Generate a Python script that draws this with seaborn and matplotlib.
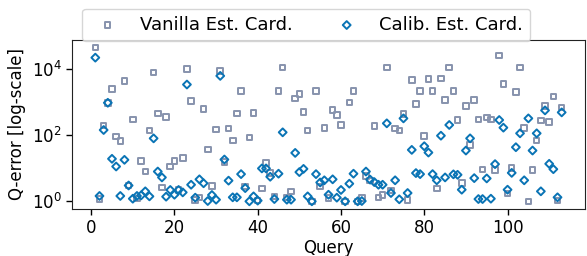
import numpy as np
import pandas as pd
import matplotlib
matplotlib.use("Agg")
import matplotlib.pyplot as plt
import matplotlib.ticker as mticker
import seaborn as sns

# Q-error per query (JOB, 113 queries)
queries = list(range(1, 114))

vanilla_qerror = [
    42700, 1.17, 195, 933, 2400, 91, 65, 4270, 3.0, 288,
    1.2, 16.6, 7.8, 138, 7590, 447, 2.6, 347, 11.2, 16.6,
    2.2, 20.4, 9770, 1050, 1.1, 1.32, 617, 36, 2.9, 145,
    8510, 15.5, 158, 68, 447, 2140, 2.8, 85, 457, 1.05,
    2.45, 14.1, 7.2, 1.41, 2140, 10700, 1.32, 2.0, 1260, 1700,
    500, 138, 1.0, 2140, 2.8, 162, 1.26, 562, 398, 200,
    1.0, 955, 2140, 1.0, 1.26, 5.9, 4.3, 186, 1.32, 1.58,
    10700, 2.1, 158, 138, 427, 1.1, 4470, 870, 2140, 93,
    4790, 2140, 2.45, 5010, 1150, 10700, 2140, 282, 3.5, 760,
    50, 1150, 288, 9.1, 339, 288, 8.9, 25100, 3470, 1.7,
    10, 1950, 10700, 162, 1.0, 8.9, 68, 270, 760, 245,
    1450, 1.07, 676,
]

calib_qerror = [
    21400, 1.45, 141, 933, 19.1, 11.2, 1.45, 17.8, 3.0, 1.2,
    1.45, 1.51, 2.0, 1.41, 79, 7.9, 5.25, 1.38, 2.2, 1.58,
    2.2, 1.86, 3310, 3.16, 1.29, 4.6, 3.5, 1.02, 1.55, 1.12,
    6030, 18.2, 4.2, 1.32, 1.32, 6.6, 2.5, 1.0, 1.41, 1.05,
    9.8, 9.8, 5.5, 1.17, 6.8, 120, 1.12, 1.12, 28.8, 7.6,
    9.5, 1.41, 1.0, 6.6, 3.7, 4.3, 1.58, 4.6, 1.29, 2.2,
    1.0, 3.4, 6.8, 1.0, 1.02, 7.9, 4.5, 3.8, 3.16, 3.16,
    224, 1.78, 4.3, 1.15, 316, 1.78, 35.5, 7.1, 6.6, 45.7,
    29.5, 6.6, 4.3, 95, 5.25, 200, 6.5, 6.3, 2.24, 33.9,
    79, 5.0, 1.17, 1.17, 4.9, 1.2, 13.2, 282, 166, 2.24,
    7.2, 42.7, 112, 4.3, 316, 33.9, 112, 2.0, 550, 13.5,
    9.3, 1.32, 479,
]

series_names = ["Vanilla Est. Card.", "Calib. Est. Card."]
colors = ["#8793ad", "#0a74b5"]
markers = ["s", "D"]
ytick_values = [1, 1e2, 1e4]

sns.set_style("ticks", {
    "text.color": "black", "axes.labelcolor": "black",
    "xtick.color": "black", "ytick.color": "black",
    "axes.edgecolor": "#222222",
})
plt.rcParams["font.family"] = ["DejaVu Sans"]

fig = plt.figure(figsize=(5.87, 2.56), dpi=100)
ax = fig.add_axes([72 / 587, 1 - 209 / 256, 513 / 587, 169 / 256])

for name, vals, c, m in zip(series_names, [vanilla_qerror, calib_qerror], colors, markers):
    df = pd.DataFrame({"Query": queries, "Q-error": vals})
    sns.scatterplot(
        data=df, x="Query", y="Q-error", ax=ax,
        marker=m, s=16, facecolor="none", edgecolor=c,
        linewidth=1.4, label=name,
    )

ax.set_yscale("log")
ax.yaxis.set_major_locator(mticker.FixedLocator(ytick_values))
ax.yaxis.set_major_formatter(mticker.LogFormatterSciNotation())
ax.yaxis.set_minor_locator(mticker.NullLocator())
ax.set_xlabel("Query", fontsize=12, labelpad=1)
ax.set_ylabel("Q-error [log-scale]", fontsize=12)
ax.tick_params(axis="both", labelsize=12, length=4, width=1)

leg = ax.legend(
    ncol=2, fontsize=13, loc="lower left",
    bbox_to_anchor=(82 / 587, 1 - 41 / 256), bbox_transform=fig.transFigure,
    borderaxespad=0, frameon=True,
)

fig.savefig("out.png", dpi=100)
